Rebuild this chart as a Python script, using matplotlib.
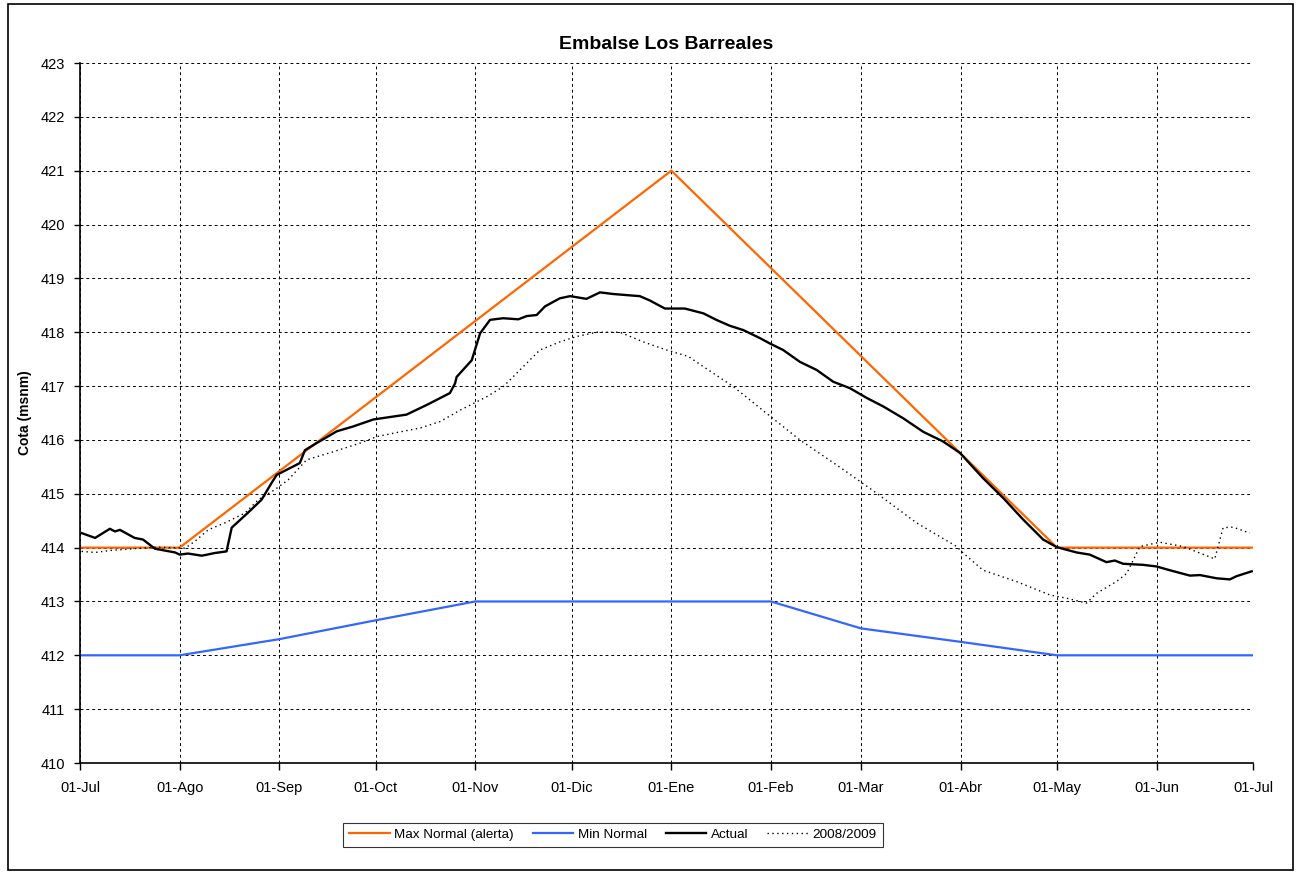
import numpy as np
import pandas as pd
import matplotlib
matplotlib.use("Agg")
import matplotlib.pyplot as plt

plt.rcParams['font.family'] = ['Liberation Sans', 'DejaVu Sans']

inicio = pd.Timestamp('2009-07-01')

# curva de alerta (maximo normal)
max_fechas = ['2009-07-01', '2009-08-01', '2010-01-01', '2010-05-01', '2010-07-01']
max_cota = [414, 414, 421, 414, 414]

# minimo normal
min_fechas = ['2009-07-01', '2009-08-01', '2009-09-01', '2009-10-01', '2009-11-01',
              '2010-02-01', '2010-03-01', '2010-04-01', '2010-05-01', '2010-07-01']
min_cota = [412, 412, 412.3, 412.65, 413, 413, 412.5, 412.25, 412, 412]

# cota actual (dias desde 01-Jul)
act_dias = [0.5, 4.7, 9.3, 10.9, 12.4, 17, 19.6, 23.3, 29.6, 31, 33.6, 37.9, 42, 45.6,
            47.2, 52.3, 56.5, 59.6, 61.2, 68.4, 70, 73.6, 79.9, 85, 91.3, 101.6, 107.9,
            115.1, 116.7, 117.2, 121.9, 124.5, 127.6, 131.7, 136.4, 139, 142.1, 144.7,
            149.3, 152.5, 157.6, 161.8, 165.9, 170, 174.2, 177.3, 182, 188.2, 194, 198,
            202.2, 206.4, 211.6, 214.7, 218.8, 224, 229.2, 234.4, 239.6, 244.8, 250,
            256.2, 262.4, 268.6, 273.8, 281, 287.3, 293.5, 299.7, 303.9, 310.1, 314.2,
            319.4, 322, 324.6, 330.8, 335, 339.1, 345.4, 348.5, 353.7, 357.8, 359.9, 364.6]
act_cota = [414.27, 414.18, 414.35, 414.30, 414.33, 414.18, 414.15, 413.98, 413.91, 413.87,
            413.89, 413.85, 413.90, 413.93, 414.37, 414.65, 414.89, 415.20, 415.35, 415.57,
            415.81, 415.94, 416.16, 416.25, 416.38, 416.47, 416.65, 416.87, 417.05, 417.17,
            417.48, 417.98, 418.23, 418.26, 418.24, 418.30, 418.32, 418.48, 418.63, 418.67,
            418.62, 418.74, 418.71, 418.69, 418.67, 418.59, 418.44, 418.44, 418.35, 418.23,
            418.12, 418.04, 417.89, 417.79, 417.67, 417.45, 417.30, 417.08, 416.96, 416.78,
            416.62, 416.40, 416.15, 415.97, 415.76, 415.29, 414.92, 414.52, 414.15, 414.01,
            413.91, 413.87, 413.73, 413.76, 413.70, 413.68, 413.65, 413.58, 413.48, 413.49,
            413.43, 413.41, 413.47, 413.56]

# temporada 2008/2009
ant_dias = [0.5, 4.7, 9.9, 19.2, 24.4, 32.7, 35.8, 39.9, 45.1, 51.3, 55.5, 60.7, 64.8,
            70.5, 78.8, 87.1, 92.3, 99.6, 105.8, 112, 118.2, 126.5, 131.7, 136.9, 143.1,
            149.3, 154.5, 160.8, 168, 175.3, 182.5, 189.3, 194, 203.3, 213.7, 224, 237.5,
            247.9, 260.3, 272.8, 274.8, 281, 291.4, 301.8, 307, 313.2, 316.3, 322.5, 325.7,
            329.8, 336, 343.3, 353.1, 355.7, 358.8, 364]
ant_cota = [413.93, 413.91, 413.95, 413.99, 414.01, 413.99, 414.12, 414.33, 414.46, 414.64,
            414.89, 415.08, 415.26, 415.63, 415.78, 415.94, 416.06, 416.15, 416.22, 416.34,
            416.55, 416.80, 416.99, 417.30, 417.67, 417.82, 417.92, 418.0, 418.0, 417.82,
            417.67, 417.55, 417.36, 416.99, 416.49, 416.0, 415.45, 415.01, 414.46, 414.02,
            413.90, 413.58, 413.37, 413.12, 413.06, 412.97, 413.15, 413.37, 413.52, 414.02,
            414.10, 414.02, 413.79, 414.37, 414.38, 414.27]

meses = ['01-Jul', '01-Ago', '01-Sep', '01-Oct', '01-Nov', '01-Dic', '01-Ene',
         '01-Feb', '01-Mar', '01-Abr', '01-May', '01-Jun', '01-Jul']

act_x = inicio + pd.to_timedelta(act_dias, unit='D')
ant_x = inicio + pd.to_timedelta(ant_dias, unit='D')

fig = plt.figure(figsize=(12.98, 8.72), dpi=100)
ax = fig.add_axes([80 / 1298, 109 / 872, 1173 / 1298, 700 / 872])

ax.plot(pd.to_datetime(max_fechas), max_cota, color='#FF6600', lw=1.6, label='Max Normal (alerta)')
ax.plot(pd.to_datetime(min_fechas), min_cota, color='#3366FF', lw=1.6, label='Min Normal')
ax.plot(act_x, act_cota, color='black', lw=1.7, label='Actual')
ax.plot(ant_x, ant_cota, color='black', lw=1.0, ls=(0, (1, 2.5)), label='2008/2009')

ticks = pd.date_range('2009-07-01', '2010-07-01', freq='MS')
ax.set_xlim(ticks[0], ticks[-1])
ax.set_xticks(ticks)
ax.set_xticklabels(meses, fontsize=10.5)
ax.set_ylim(410, 423)
ax.set_yticks(np.arange(410, 424, 1))
ax.tick_params(axis='y', labelsize=10.5, direction='out', length=4, width=1, pad=7)
ax.tick_params(axis='x', direction='out', length=5, width=1, pad=8)

ax.grid(True, color='black', ls=(0, (3, 3)), lw=0.7)
for s in ['top', 'right']:
    ax.spines[s].set_visible(False)
for s in ['left', 'bottom']:
    ax.spines[s].set_linewidth(1.2)

ax.set_ylabel('Cota (msnm)', fontsize=10, fontweight='bold', labelpad=6)
ax.set_title('Embalse Los Barreales', fontsize=14, fontweight='bold', pad=10)

leg = fig.legend(loc='center', bbox_to_anchor=(613 / 1298, 1 - 835 / 872), ncol=4,
                 fontsize=9.7, frameon=True, fancybox=False, edgecolor='black',
                 handlelength=3.0, columnspacing=1.4, handletextpad=0.35,
                 borderpad=0.45)
leg.get_frame().set_linewidth(0.8)

# borde exterior del grafico
fig.patches.append(plt.Rectangle((8 / 1298, 2 / 872), 1285 / 1298, 866 / 872,
                                 transform=fig.transFigure, fill=False,
                                 edgecolor='black', lw=1.2))

fig.savefig('out.png', dpi=100)
